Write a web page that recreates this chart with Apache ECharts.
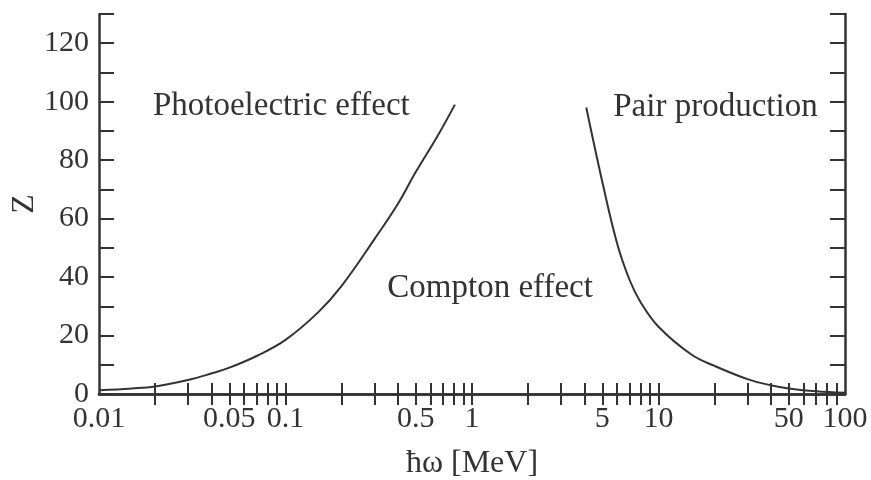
<!DOCTYPE html>
<html>
<head>
<meta charset="utf-8">
<script src="https://cdn.jsdelivr.net/npm/echarts@6/dist/echarts.min.js"></script>
<style>
  html, body { margin: 0; padding: 0; background: #fff; }
  #main { width: 871px; height: 480px; }
</style>
</head>
<body>
<div id="main"></div>
<script>
// photoelectric / compton boundary (E in MeV, Z)
var photoE = [0.01, 0.015, 0.02, 0.03, 0.04, 0.05, 0.07, 0.1, 0.15, 0.2, 0.3, 0.4, 0.5, 0.65, 0.81];
var photoZ = [1.3, 1.9, 2.6, 4.8, 7, 9, 13, 18.5, 28, 37, 53, 65, 76, 88, 99];
// compton / pair production boundary
var pairE = [4.1, 5, 6, 7, 8, 10, 15, 20, 30, 40, 50, 70, 100];
var pairZ = [98, 72.5, 51.5, 39, 31.5, 23, 13.5, 9.6, 5.1, 3.0, 1.9, 0.9, 0.4];

var xLabelValues = [0.01, 0.05, 0.1, 0.5, 1, 5, 10, 50, 100];
var xTickValues = [0.02, 0.03, 0.04, 0.05, 0.06, 0.07, 0.08, 0.09, 0.1,
                   0.2, 0.3, 0.4, 0.5, 0.6, 0.7, 0.8, 0.9, 1,
                   2, 3, 4, 5, 6, 7, 8, 9, 10,
                   20, 30, 40, 50, 60, 70, 80, 90];
var yLabelValues = [0, 20, 40, 60, 80, 100, 120];

// region names, placed at data coords
var regionNames = ['Photoelectric effect', 'Compton effect', 'Pair production'];
var regionE = [0.095, 1.25, 20.2];
var regionZ = [98.4, 36.3, 98];

var ink = '#333';
var serif = 'Liberation Serif, DejaVu Serif, serif';

function pairs(xs, ys) {
  return xs.map(function (x, i) { return [x, ys[i]]; });
}

var chart = echarts.init(document.getElementById('main'));

var xBase = {
  type: 'log',
  logBase: 10,
  min: 0.01,
  max: 100,
  axisLine: { show: true, lineStyle: { color: ink, width: 2.5 } },
  axisTick: { show: true, inside: true, length: 11, lineStyle: { color: ink, width: 2 }, customValues: xTickValues },
  splitLine: { show: false },
  minorTick: { show: false }
};

chart.setOption({
  backgroundColor: '#fff',
  animation: false,
  grid: { left: 99, right: 26, top: 14, bottom: 86, outerBoundsMode: 'none', containLabel: false },
  xAxis: [
    Object.assign({}, xBase, {
      position: 'bottom',
      name: 'ħω [MeV]',
      nameLocation: 'middle',
      nameGap: 54,
      nameMoveOverlap: false,
      nameTextStyle: { fontFamily: serif, fontSize: 32, color: ink },
      axisLabel: {
        show: true, margin: 10, color: ink, fontFamily: serif, fontSize: 30,
        customValues: xLabelValues,
        formatter: function (v) { return String(+v.toPrecision(6)); }
      }
    }),
    Object.assign({}, xBase, {
      position: 'top',
      axisLabel: { show: false }
    })
  ],
  yAxis: [
    {
      type: 'value', min: 0, max: 130, interval: 10, position: 'left',
      name: 'Z', nameLocation: 'middle', nameGap: 58, nameRotate: 90,
      nameMoveOverlap: false,
      nameTextStyle: { fontFamily: serif, fontSize: 32, color: ink },
      axisLine: { show: true, lineStyle: { color: ink, width: 2.5 } },
      axisTick: { show: true, inside: true, length: 15, lineStyle: { color: ink, width: 2 } },
      splitLine: { show: false },
      axisLabel: {
        margin: 10, color: ink, fontFamily: serif, fontSize: 30,
        customValues: yLabelValues
      }
    },
    {
      type: 'value', min: 0, max: 130, interval: 10, position: 'right',
      axisLine: { show: true, lineStyle: { color: ink, width: 2.5 } },
      axisTick: { show: true, inside: true, length: 15, lineStyle: { color: ink, width: 2 } },
      splitLine: { show: false },
      axisLabel: { show: false }
    }
  ],
  series: [
    {
      type: 'line', name: 'photo', data: pairs(photoE, photoZ), smooth: 0.4,
      showSymbol: false, lineStyle: { color: ink, width: 2 }
    },
    {
      type: 'line', name: 'pair', data: pairs(pairE, pairZ), smooth: 0.4,
      showSymbol: false, lineStyle: { color: ink, width: 2 }
    },
    {
      type: 'scatter', symbolSize: 0, silent: true,
      itemStyle: { opacity: 1 },
      data: regionNames.map(function (n, i) { return { value: [regionE[i], regionZ[i]], name: n }; }),
      label: {
        show: true, position: 'inside', formatter: '{b}',
        color: ink, fontFamily: serif, fontSize: 33, opacity: 1
      }
    }
  ]
});
</script>
</body>
</html>
